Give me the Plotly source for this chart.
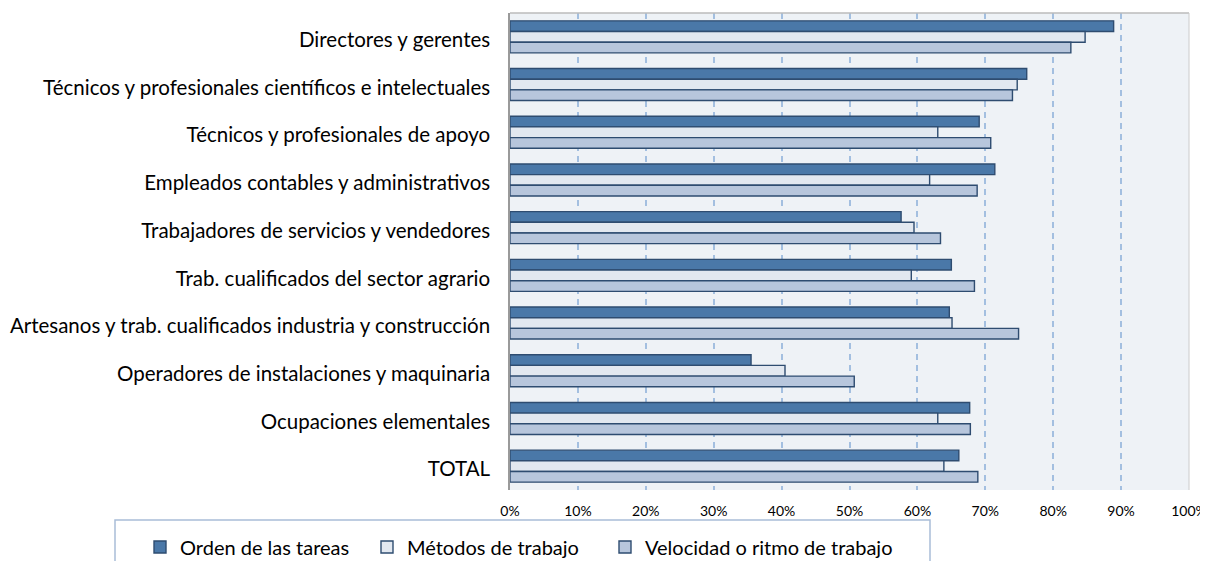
import plotly.graph_objects as go

categories = [
    "Directores y gerentes",
    "Técnicos y profesionales científicos e intelectuales",
    "Técnicos y profesionales de apoyo",
    "Empleados contables y administrativos",
    "Trabajadores de servicios y vendedores",
    "Trab. cualificados del sector agrario",
    "Artesanos y trab. cualificados industria y construcción",
    "Operadores de instalaciones y maquinaria",
    "Ocupaciones elementales",
    "TOTAL",
]
orden = [88.9, 76.1, 69.1, 71.4, 57.6, 65.0, 64.7, 35.5, 67.7, 66.1]
metodos = [84.7, 74.7, 63.0, 61.8, 59.5, 59.1, 65.1, 40.5, 63.0, 63.9]
velocidad = [82.6, 74.0, 70.8, 68.8, 63.4, 68.4, 74.9, 50.7, 67.8, 68.9]
series_names = ["Orden de las tareas", "Métodos de trabajo", "Velocidad o ritmo de trabajo"]
tick_vals = [0, 10, 20, 30, 40, 50, 60, 70, 80, 90, 100]
tick_text = [f"{v}%" for v in tick_vals]

FONT = "Lato, 'Open Sans', sans-serif"
fills = ["#4A78A8", "#E2E8F0", "#B7C6DC"]
edge = "#2E4C70"
legend_ids = ["legend", "legend2", "legend3"]
legend_screen_x = [140, 367, 605]

fig = go.Figure()
for name, vals, col, lid in zip(series_names, [orden, metodos, velocidad], fills, legend_ids):
    fig.add_trace(go.Bar(
        y=categories, x=vals, name=name, orientation="h", legend=lid,
        marker=dict(color=col, line=dict(color=edge, width=1.4)),
    ))

# page body has an 8px margin: work in figure coordinates = screen - 8
OFF = 8
W, H = 1208, 553
L, R, T, B = 510 - OFF, 1189 - OFF, 13 - OFF, 490 - OFF
PW, PH = R - L, B - T


def px_x(sx):
    return (sx - OFF - L) / PW


def px_y(sy):
    return (B - (sy - OFF)) / PH


def legend_at(sx):
    return dict(
        orientation="h", xref="paper", yref="paper",
        x=px_x(sx), xanchor="left", y=px_y(547), yanchor="middle",
        font=dict(size=20, family=FONT), bgcolor="rgba(0,0,0,0)",
        itemwidth=30,
    )


fig.update_layout(
    width=W, height=H,
    margin=dict(l=L, r=W - R, t=T, b=H - B, autoexpand=False),
    barmode="group", bargap=0.33, bargroupgap=0,
    plot_bgcolor="#EEF2F6", paper_bgcolor="white",
    font=dict(family=FONT, color="black"),
    showlegend=True,
    legend=legend_at(legend_screen_x[0]),
    legend2=legend_at(legend_screen_x[1]),
    legend3=legend_at(legend_screen_x[2]),
    xaxis=dict(
        range=[0, 100], tickmode="array", tickvals=tick_vals, ticktext=tick_text,
        showgrid=True, gridcolor="#A3BFE0", griddash="6px,5px", gridwidth=1.5,
        zeroline=False, showline=False, ticks="", automargin=False,
        ticklabeloverflow="allow",
        tickfont=dict(size=14, family=FONT), ticklabelstandoff=11,
    ),
    yaxis=dict(
        autorange="reversed", showgrid=False, zeroline=False, automargin=False,
        showline=True, linecolor="#9A9A9A", linewidth=1.5, ticks="",
        tickfont=dict(size=20.5, family=FONT), ticklabelstandoff=14,
        ticklabelshift=-3,
    ),
    shapes=[
        dict(type="line", xref="paper", yref="paper", x0=0, x1=1, y0=1, y1=1,
             line=dict(color="#BBBBBB", width=1.5)),
        dict(type="line", xref="paper", yref="paper", x0=1, x1=1, y0=0, y1=1,
             line=dict(color="#CCCCCC", width=1)),
        dict(type="rect", xref="paper", yref="paper",
             x0=px_x(115), x1=px_x(930), y0=px_y(575), y1=px_y(520),
             line=dict(color="#A9BDD8", width=1.5), fillcolor="rgba(0,0,0,0)"),
    ],
)

fig.write_html("out.html")
